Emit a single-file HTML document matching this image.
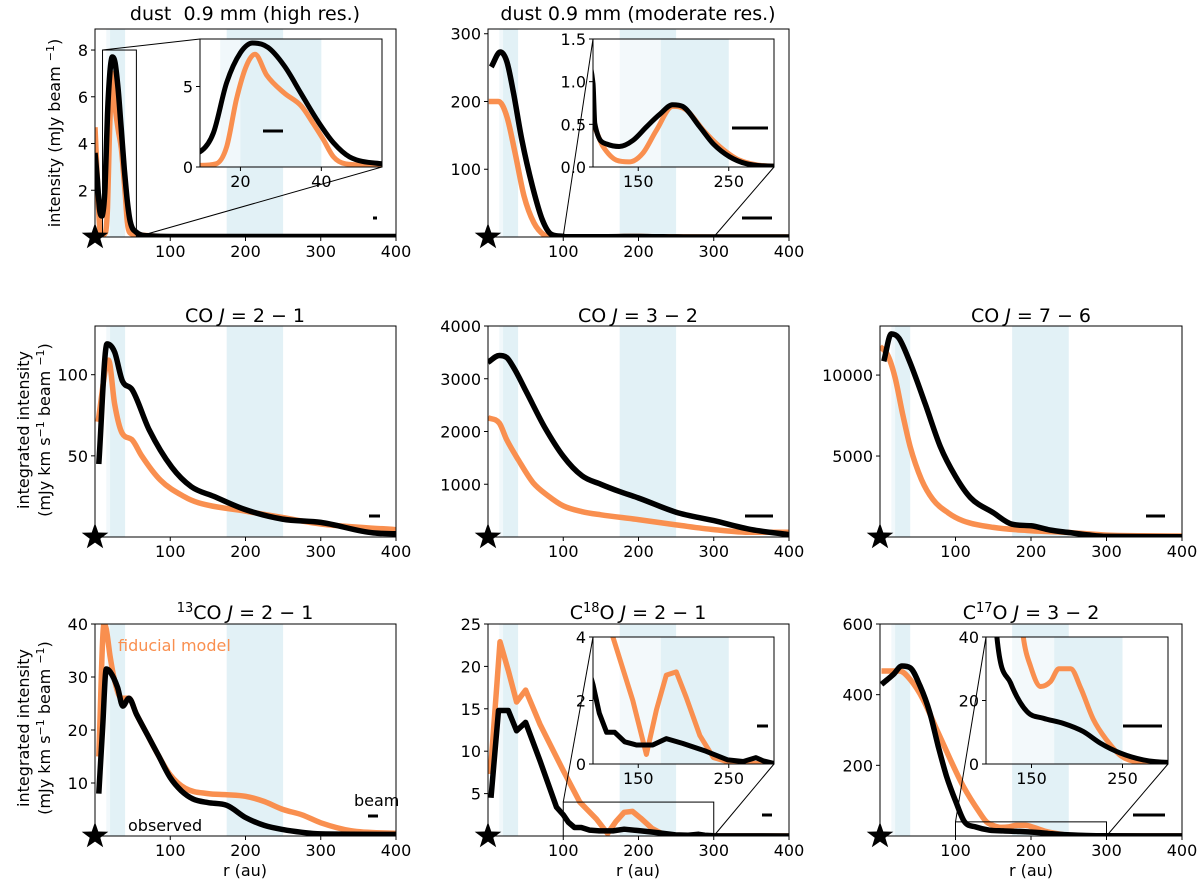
<!DOCTYPE html>
<html><head><meta charset="utf-8"><style>
html,body{margin:0;padding:0;background:#fff}
svg{display:block;font-family:"DejaVu Sans","Liberation Sans",sans-serif}
</style></head><body>
<svg id="fig" width="1200" height="889" viewBox="0 0 1200 889" xmlns="http://www.w3.org/2000/svg"></svg>
<script>
// ---------- data ----------
const dustHiObsR = [0,3,6,9,10,13.3,16.6,20,23,26.7,30.8,34.9,39,43,47,55,70,100,200,300,400];
const dustHiObsV = [3.6,2.5,1.2,0.9,0.95,2.1,5.25,7.1,7.7,7.45,6.3,4.6,2.9,1.5,0.63,0.2,0.05,0.02,0.02,0.02,0.02];
const dustHiModR = [0,3,6,8,10,14,16.6,19,21.5,23.6,26.5,30.8,35,38,40.5,43,46,55,100,400];
const dustHiModV = [4.7,2.5,0.5,0.1,0.1,0.2,1.26,4.2,6.3,7.0,5.7,4.6,3.8,2.7,1.7,0.63,0.2,0.1,0.01,0.01];

const dustModObsR = [4.4,16.4,25,34,45,59,72,85,100,102,115,129,144,159,174,188,199,218,233,251,269,300,400];
const dustModObsV = [251,273,259,212,143,75,26,3.4,0.98,0.51,0.27,0.24,0.31,0.47,0.62,0.73,0.71,0.47,0.27,0.12,0.04,0.01,0.01];
const dustModModR = [1,14,25,36,48,61,74,83,100,111,126,140,155,170,188,203,222,240,262,300,400];
const dustModModV = [200,200,178,124,60,21,3.4,0.6,0.47,0.24,0.08,0.06,0.16,0.43,0.71,0.67,0.43,0.24,0.08,0.01,0.01];

const co21ObsR = [5,16,26,36.5,49,72,102,128,158,199,249,300,370,400];
const co21ObsV = [45,119,114,96,91,66,43,31,25,17,11,9,2.5,2];
const co21ModR = [4,18,26,36,49,62,87,118,138,199,249,300,400];
const co21ModV = [71,109,82,64,60,50,35,25,21,16,12,8,4.5];

const co32ObsR = [0,15,25,35,50,75,100,125,150,175,200,250,300,350,400];
const co32ObsV = [3310,3440,3400,3190,2780,2090,1530,1160,1000,860,740,470,310,140,45];
const co32ModR = [0,15,25,40,60,80,100,125,150,200,250,300,350,400];
const co32ModV = [2260,2160,1840,1470,1030,780,590,480,420,330,230,140,90,90];

const co76ObsR = [5,15,25,40,60,80,100,120,150,175,200,225,250,275,300,400];
const co76ObsV = [10850,12540,12280,10750,8210,5570,3740,2420,1500,790,690,430,280,130,40,20];
const co76ModR = [0,10,20,30,40,55,70,90,110,150,200,250,300,400];
const co76ModV = [11770,11260,9840,7600,5570,3540,2320,1500,1000,590,390,280,120,60];

const co13ObsR = [5,10,15,20,30,37,45,55,70,85,100,115,130,150,175,200,225,250,275,300,400];
const co13ObsV = [8,20,31.5,31,28,24.5,26,23,19,15,11,8.5,7,6.3,5.8,3.5,2,1.2,0.7,0.4,0.3];
const co13ModR = [5,12,15,20,25,35,45,55,70,85,100,120,150,175,200,225,250,275,300,340,400];
const co13ModV = [15,40,39,34,30,26,26,23,19,15,11.5,9,8,7.8,7.5,6.5,5,4,2.5,1,0.5];

const c18ObsR = [4,14,27,38,50,69,91,100,107,115,124,135,148,166,181,199,225,249,266,280,288,300,400];
const c18ObsV = [4.5,14.8,14.8,12.4,13.4,8.9,3.4,2.5,1.6,1.0,1.0,0.7,0.6,0.6,0.8,0.65,0.4,0.13,0.08,0.2,0.1,0.02,0];
const c18ModR = [3,16,27,38,50,69,100,122,144,159,170,181,192,203,218,233,251,300,400];
const c18ModV = [7.3,22.9,19.5,15.8,17.2,13.2,7.7,4,2,0.3,1.7,2.8,2.9,2.1,0.9,0.2,0.05,0,0];

const c17ObsR = [2,18,29,40,53,66,77,88,101,112,127,145,163,185,207,226,248,273,300,400];
const c17ObsV = [429,458,481,476,425,349,255,170,94,40,25.5,16.5,14.4,12.8,10.2,6.5,3.4,1.3,0.5,0.3];
const c17ModR = [2,26,40,57,75,93,110,132,141,149,160,171,180,193,204,218,233,248,266,300,400];
const c17ModV = [467,467,443,387,302,217,142,66,40,30.7,24.4,26,30,30,24,14,7.4,2.6,0.7,0.2,0.1];

const xTicks = [100,200,300,400];
const yTicksDustHi = [2,4,6,8];
const yTicksDustMod = [100,200,300];
const yTicksCO21 = [50,100];
const yTicksCO32 = [1000,2000,3000,4000];
const yTicksCO76 = [5000,10000];
const yTicksCO13 = [10,20,30,40];
const yTicksC18 = [5,10,15,20,25];
const yTicksC17 = [200,400,600];

// ---------- drawing ----------
const NS = "http://www.w3.org/2000/svg";
const svg = document.getElementById('fig');
const ORANGE = "#f98f4f";
const FS = 16;
function el(tag, attrs, parent){
  const e = document.createElementNS(NS, tag);
  for (const k in attrs) e.setAttribute(k, attrs[k]);
  (parent||svg).appendChild(e);
  return e;
}
let clipN = 0;
function sx(p,r){ return p.x0 + (r-p.d0)/(p.d1-p.d0)*(p.x1-p.x0); }
function sy(p,v){ return p.y1 - (v-p.v0)/(p.v1-p.v0)*(p.y1-p.y0); }
function bands(p, g, list){
  for (const b of list){
    const a = Math.max(b[0],p.d0), c = Math.min(b[1],p.d1);
    if (c<=a) continue;
    const rc = el('rect',{x:sx(p,a),y:p.y0,width:sx(p,c)-sx(p,a),height:p.y1-p.y0,fill:b[2]},g);
    
    
  }
}
// monotone cubic path
function monoPath(X, Y){
  const n = X.length;
  if (n<3){ let d=''; for(let i=0;i<n;i++) d+=(i?'L':'M')+X[i].toFixed(1)+' '+Y[i].toFixed(1); return d; }
  const dx=[], m=[], t=new Array(n);
  for (let i=0;i<n-1;i++){ dx.push(X[i+1]-X[i]); m.push((Y[i+1]-Y[i])/(X[i+1]-X[i]||1e-6)); }
  t[0]=m[0]; t[n-1]=m[n-2];
  for (let i=1;i<n-1;i++){ t[i] = (m[i-1]*m[i]<=0) ? 0 : (m[i-1]+m[i])/2; }
  for (let i=0;i<n-1;i++){
    if (m[i]===0){ t[i]=0; t[i+1]=0; continue; }
    const a=t[i]/m[i], b=t[i+1]/m[i], s=a*a+b*b;
    if (s>9){ const k=3/Math.sqrt(s); t[i]=k*a*m[i]; t[i+1]=k*b*m[i]; }
  }
  let d='M'+X[0].toFixed(1)+' '+Y[0].toFixed(1);
  for (let i=0;i<n-1;i++){
    const h=dx[i]/3;
    d+='C'+(X[i]+h).toFixed(1)+' '+(Y[i]+t[i]*h).toFixed(1)+' '+(X[i+1]-h).toFixed(1)+' '+(Y[i+1]-t[i+1]*h).toFixed(1)+' '+X[i+1].toFixed(1)+' '+Y[i+1].toFixed(1);
  }
  return d;
}
function line(p, g, R, V, color, w, name){
  const X = R.map(r=>sx(p,r)), Y = V.map(v=>sy(p,v));
  let d;
  if (p.smooth) d = monoPath(X,Y);
  else { d=''; for (let i=0;i<R.length;i++) d += (i?'L':'M') + X[i].toFixed(1) + ' ' + Y[i].toFixed(1); }
  const pa = el('path',{d:d,fill:'none',stroke:color,'stroke-width':w,'stroke-linejoin':'round','stroke-linecap':'butt'},g);
  
  
}
function axes(p, yt, ylab, fs, xt, xlab){
  const g = el('g',{});
  
  
  el('rect',{x:p.x0,y:p.y0,width:p.x1-p.x0,height:p.y1-p.y0,fill:'none',stroke:'#000','stroke-width':1},g);
  (xt||[]).forEach((t,i)=>{
    const x = sx(p,t);
    el('line',{x1:x,x2:x,y1:p.y1,y2:p.y1+4,stroke:'#000'},g);
    const tx = el('text',{x:x,y:p.y1+20,'font-size':fs,'text-anchor':'middle'},g);
    tx.textContent = xlab ? xlab[i] : t;
    
    
  });
  yt.forEach((t,i)=>{
    const y = sy(p,t);
    el('line',{x1:p.x0-4,x2:p.x0,y1:y,y2:y,stroke:'#000'},g);
    const tx = el('text',{x:p.x0-7,y:y+6,'font-size':fs,'text-anchor':'end'},g);
    tx.textContent = ylab ? ylab[i] : t;
    
    
  });
}
function star(p){
  const cx = p.x0, cy = p.y1, R = 14, r = 5.6;
  let pts = [];
  for (let i=0;i<10;i++){
    const a = -Math.PI/2 + i*Math.PI/5, rr = i%2?r:R;
    pts.push((cx+rr*Math.cos(a)).toFixed(1)+','+(cy+rr*Math.sin(a)).toFixed(1));
  }
  const s = el('polygon',{points:pts.join(' '),fill:'#000'});
  
  
}
function beam(x1,x2,y){
  const b = el('line',{x1:x1,x2:x2,y1:y,y2:y,stroke:'#000','stroke-width':3});
  
  
}
function panel(p, series, bandList){
  const id = 'c'+(clipN++);
  const cp = el('clipPath',{id:id});
  el('rect',{x:p.x0,y:p.y0,width:p.x1-p.x0,height:p.y1-p.y0},cp);
  const g = el('g',{'clip-path':'url(#'+id+')'});
  
  
  if (p.inset) el('rect',{x:p.x0,y:p.y0,width:p.x1-p.x0,height:p.y1-p.y0,fill:'#fff','fill-opacity':0.6},g);
  bands(p,g,bandList);
  for (const s of series) line(p,g,s[0],s[1],s[2],p.lw||5.5,s[3]);
}
function zoomBox(p, q){
  const bx0 = sx(p,q.d0), bx1 = sx(p,q.d1), by0 = sy(p,q.v1), by1 = sy(p,q.v0);
  const r = el('rect',{x:bx0,y:by0,width:bx1-bx0,height:Math.max(0.5,by1-by0),fill:'none',stroke:'#000','stroke-width':1});
  
  
  el('line',{x1:bx0,y1:by0,x2:q.x0,y2:q.y0,stroke:'#000','stroke-width':1});
  el('line',{x1:bx1,y1:by1,x2:q.x1,y2:q.y1,stroke:'#000','stroke-width':1});
}
function text(x,y,s,fs,attrs,name){
  const t = el('text',Object.assign({x:x,y:y,'font-size':fs},attrs||{}));
  t.innerHTML = s;
  
  
  return t;
}

const LB = "#f1f8fb", B = "#e2f1f6";
const mainBands = [[15,20,LB],[20,40,B],[175,250,B]];
const C = [[95,396],[488,789],[880,1182]];
const Rw = [[29,237],[326,537],[624,836]];
function P(ci,ri,v1,name,smooth){ return {x0:C[ci][0],x1:C[ci][1],y0:Rw[ri][0],y1:Rw[ri][1],d0:0,d1:400,v0:0,v1:v1,name:name,smooth:smooth}; }

// Row 1
const pA = P(0,0,8.9,'dust-high-res',true);
panel(pA,[[dustHiModR,dustHiModV,ORANGE,'model-line'],[dustHiObsR,dustHiObsV,'#000','observed-line']],mainBands);
axes(pA,yTicksDustHi,null,FS,xTicks);
const iA = {x0:200,x1:382,y0:39,y1:167,d0:10,d1:55,v0:0,v1:7.95,name:'dust-high-res-inset',inset:true,lw:5,smooth:true};
zoomBox(pA,{d0:10,d1:55,v0:0,v1:8,x0:200,y0:39,x1:382,y1:167});
panel(iA,[[dustHiModR,dustHiModV,ORANGE,'model-line'],[dustHiObsR,dustHiObsV,'#000','observed-line']],[[15,20,LB],[20,40,B]]);
axes(iA,[0,5],null,FS,[20,40]);
star(pA);
beam(373,377,218); beam(263,283,131);

const pB = P(1,0,307,'dust-moderate-res',true);
panel(pB,[[dustModModR,dustModModV,ORANGE,'model-line'],[dustModObsR,dustModObsV,'#000','observed-line']],mainBands);
axes(pB,yTicksDustMod,null,FS,xTicks);
const iB = {x0:593,x1:774,y0:39,y1:167,d0:100,d1:300,v0:0,v1:1.5,name:'dust-moderate-inset',inset:true,lw:5,smooth:true};
zoomBox(pB,iB);
panel(iB,[[dustModModR,dustModModV,ORANGE,'model-line'],[dustModObsR,dustModObsV,'#000','observed-line']],[[175,250,B]]);
axes(iB,[0,0.5,1.0,1.5],['0.0','0.5','1.0','1.5'],FS,[150,250]);
star(pB);
beam(742,772,218); beam(732,768,128);

// Row 2
const pC = P(0,1,130,'co21',true);
panel(pC,[[co21ModR,co21ModV,ORANGE,'model-line'],[co21ObsR,co21ObsV,'#000','observed-line']],mainBands);
axes(pC,yTicksCO21,null,FS,xTicks); star(pC); beam(369,380,516);
const pD = P(1,1,4000,'co32',true);
panel(pD,[[co32ModR,co32ModV,ORANGE,'model-line'],[co32ObsR,co32ObsV,'#000','observed-line']],mainBands);
axes(pD,yTicksCO32,null,FS,xTicks); star(pD); beam(745,773,516);
const pE = P(2,1,13030,'co76',true);
panel(pE,[[co76ModR,co76ModV,ORANGE,'model-line'],[co76ObsR,co76ObsV,'#000','observed-line']],mainBands);
axes(pE,yTicksCO76,null,FS,xTicks); star(pE); beam(1146,1165,516);

// Row 3
const pF = P(0,2,40,'13co21',true);
panel(pF,[[co13ModR,co13ModV,ORANGE,'model-line'],[co13ObsR,co13ObsV,'#000','observed-line']],mainBands);
axes(pF,yTicksCO13,null,FS,xTicks); star(pF); beam(368,378,816);
const pG = P(1,2,25,'c18o21',false);
panel(pG,[[c18ModR,c18ModV,ORANGE,'model-line'],[c18ObsR,c18ObsV,'#000','observed-line']],mainBands);
axes(pG,yTicksC18,null,FS,xTicks);
const iG = {x0:593,x1:774,y0:637,y1:764,d0:100,d1:300,v0:0,v1:4,name:'c18o-inset',inset:true,lw:5};
zoomBox(pG,iG);
panel(iG,[[c18ModR,c18ModV,ORANGE,'model-line'],[c18ObsR,c18ObsV,'#000','observed-line']],[[175,250,B]]);
axes(iG,[0,2,4],null,FS,[150,250]);
star(pG); beam(762,772,815); beam(757,768,726);
const pH = P(2,2,600,'c17o32',true);
panel(pH,[[c17ModR,c17ModV,ORANGE,'model-line'],[c17ObsR,c17ObsV,'#000','observed-line']],mainBands);
axes(pH,yTicksC17,null,FS,xTicks);
const iH = {x0:986,x1:1168,y0:637,y1:764,d0:100,d1:300,v0:0,v1:40,name:'c17o-inset',inset:true,lw:5,smooth:true};
zoomBox(pH,iH);
panel(iH,[[c17ModR,c17ModV,ORANGE,'model-line'],[c17ObsR,c17ObsV,'#000','observed-line']],[[175,250,B]]);
axes(iH,[0,20,40],null,FS,[150,250]);
star(pH); beam(1133,1165,815); beam(1123,1162,726);

// Titles
const tt = {'text-anchor':'middle'};
text(245,20,'dust&#160;&#160;0.9 mm (high res.)',19,tt,'title-dust-high-res');
text(638,20,'dust 0.9 mm (moderate res.)',19,tt,'title-dust-moderate-res');
text(245,322,'CO <tspan font-style="italic">J</tspan> = 2 − 1',19,tt,'title-co21');
text(638,322,'CO <tspan font-style="italic">J</tspan> = 3 − 2',19,tt,'title-co32');
text(1031,322,'CO <tspan font-style="italic">J</tspan> = 7 − 6',19,tt,'title-co76');
text(245,619,'<tspan font-size="13" dy="-7">13</tspan><tspan dy="7">CO </tspan><tspan font-style="italic">J</tspan> = 2 − 1',19,tt,'title-13co21');
text(638,619,'C<tspan font-size="13" dy="-7">18</tspan><tspan dy="7">O </tspan><tspan font-style="italic">J</tspan> = 2 − 1',19,tt,'title-c18o21');
text(1031,619,'C<tspan font-size="13" dy="-7">17</tspan><tspan dy="7">O </tspan><tspan font-style="italic">J</tspan> = 3 − 2',19,tt,'title-c17o32');

// Axis labels
text(0,0,'intensity (mJy beam <tspan font-size="11" dy="-6">−1</tspan><tspan dy="6">)</tspan>',16,{'text-anchor':'middle',transform:'translate(60,133) rotate(-90)'},'y-axis-title-row1');
text(0,0,'integrated intensity',16,{'text-anchor':'middle',transform:'translate(29,430) rotate(-90)'},'y-axis-title-row2-line1');
text(0,0,'(mJy km s<tspan font-size="11" dy="-6">−1</tspan><tspan dy="6"> beam </tspan><tspan font-size="11" dy="-6">−1</tspan><tspan dy="6">)</tspan>',16,{'text-anchor':'middle',transform:'translate(50,430) rotate(-90)'},'y-axis-title-row2-line2');
text(0,0,'integrated intensity',16,{'text-anchor':'middle',transform:'translate(29,728) rotate(-90)'},'y-axis-title-row3-line1');
text(0,0,'(mJy km s<tspan font-size="11" dy="-6">−1</tspan><tspan dy="6"> beam </tspan><tspan font-size="11" dy="-6">−1</tspan><tspan dy="6">)</tspan>',16,{'text-anchor':'middle',transform:'translate(50,728) rotate(-90)'},'y-axis-title-row3-line2');
text(245,876,'r (au)',16,tt,'x-axis-title-1');
text(638,876,'r (au)',16,tt,'x-axis-title-2');
text(1031,876,'r (au)',16,tt,'x-axis-title-3');

// Annotations
text(118,651,'fiducial model',16,{fill:ORANGE},'label-fiducial-model');
text(128,831,'observed',16,{},'label-observed');
text(354,806,'beam',16,{},'label-beam');
</script>
</body></html>
